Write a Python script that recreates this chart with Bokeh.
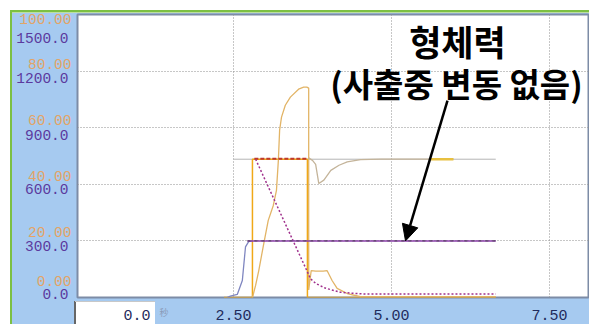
from bokeh.plotting import figure
from bokeh.models import (Range1d, FixedTicker, LinearAxis, Label, Arrow, NormalHead)
from bokeh.embed import file_html
from bokeh.resources import INLINE

# ---- axis ticks / labels ----
y_ticks = [0, 300, 600, 900, 1200, 1500]
y_labels_main = ["0.0", "300.0", "600.0", "900.0", "1200.0", "1500.0"]
y_labels_sub = ["0.00", "20.00", "40.00", "60.00", "80.00", "100.00"]
x_ticks = [2.5, 5.0, 7.5]
x_labels = ["2.50", "5.00", "7.50"]
time_box_text = "0.0"
time_unit_text = "秒"

# ---- series (time [s], value) ----
clamp_rise_x = [2.40, 2.45, 2.56, 2.64, 2.69, 2.74, 2.80]
clamp_rise_y = [0, 7, 16, 90, 268, 296, 300]
clamp_x = [2.72, 6.65]
clamp_y = [300, 300]

rect_x = [2.35, 2.80, 2.80, 3.67, 3.67, 6.65]
rect_y = [0, 0, 733, 733, 0, 0]

set_x = [2.83, 3.66]
set_y = [735, 735]

ref_x = [2.50, 6.65]
ref_y = [733, 733]

speed_x = [2.80, 2.85, 2.90, 2.98, 3.05, 3.13, 3.18, 3.21, 3.23, 3.26, 3.32, 3.40,
           3.53, 3.61, 3.66, 3.69, 3.69, 3.73, 3.80, 3.92, 3.98, 4.06, 4.14, 4.30,
           4.51, 6.65]
speed_y = [0, 64, 143, 287, 409, 488, 568, 727, 887, 956, 1019, 1062,
           1104, 1115, 1115, 1110, 40, 143, 140, 140, 143, 90, 48, 21,
           4, 4]

hold_x = [3.69, 3.75, 3.80, 3.85, 3.93, 4.04, 4.17, 4.30, 4.51, 4.83, 5.98]
hold_y = [740, 727, 706, 604, 622, 674, 701, 719, 731, 733, 733]
hold_hi_x = [5.62, 5.98]
hold_hi_y = [733, 733]

decay_x = [2.85, 3.72, 3.80, 3.95, 4.19, 4.40, 4.62, 6.65]
decay_y = [733, 99, 75, 50, 28, 22, 18, 18]

# ---- figure ----
W, H = 589, 324
p = figure(width=W, height=H, x_range=Range1d(0.032, 8.133), y_range=Range1d(0, 1500),
           output_backend="svg", toolbar_location=None,
           min_border_left=77, min_border_right=0, min_border_top=14, min_border_bottom=27)
p.border_fill_alpha = 0
p.background_fill_color = "white"
p.outline_line_color = "#7d8ca6"
p.outline_line_width = 2

# panel background drawn behind the (transparent) border area
bg_layers = [
    "linear-gradient(#c8c8c8,#c8c8c8) 75px 301px / 80px 1px no-repeat",
    "linear-gradient(#666666,#666666) 74px 301px / 2px 23px no-repeat",
    "linear-gradient(#ffffff,#ffffff) 75px 301px / 80px 23px no-repeat",
    "linear-gradient(#7cc043,#7cc043) 9.5px 10px / 579.5px 2.5px no-repeat",
    "linear-gradient(#7cc043,#7cc043) 9.5px 10px / 2px 314px no-repeat",
    "linear-gradient(#A6CAF0,#A6CAF0) 11.5px 12.5px / 577.5px 311.5px no-repeat",
    "#ffffff",
]
p.styles = {"background": ", ".join(bg_layers)}

MONO = "Liberation Mono"

# ---- x axis ----
ppx_x = 2.5 / 158.0
box_tick = round((136.5 - 75) * ppx_x, 3)
unit_tick = round((163.5 - 75) * ppx_x, 3)
xt = [box_tick] + x_ticks
xl = [time_box_text] + x_labels
p.xaxis.ticker = FixedTicker(ticks=xt)
p.xaxis.major_label_overrides = {t: s for t, s in zip(xt, xl)}
p.xaxis.axis_line_color = None
p.xaxis.major_tick_line_color = None
p.xaxis.minor_tick_line_color = None
p.xaxis.major_label_standoff = 6
p.xaxis.major_label_text_font = MONO
p.xaxis.major_label_text_font_size = "15px"
p.xaxis.major_label_text_color = "#1f2a5c"

# small grey unit mark next to the time box (second axis pulled back into the band)
ax_unit = LinearAxis(ticker=FixedTicker(ticks=[unit_tick]),
                     major_label_overrides={unit_tick: time_unit_text})
ax_unit.axis_line_color = None
ax_unit.major_tick_line_color = None
ax_unit.minor_tick_line_color = None
ax_unit.major_tick_out = 0
ax_unit.major_tick_in = 0
ax_unit.major_label_standoff = -17
ax_unit.major_label_text_font = "Noto Sans CJK JP"
ax_unit.major_label_text_font_size = "9px"
ax_unit.major_label_text_color = "#8a9ab8"
p.add_layout(ax_unit, "below")

p.xgrid.ticker = FixedTicker(ticks=x_ticks)
p.ygrid.ticker = FixedTicker(ticks=y_ticks[1:-1])
for g in (p.xgrid, p.ygrid):
    g.grid_line_color = "#8f8f8f"
    g.grid_line_dash = "1 2"
    g.grid_line_width = 1

# ---- y axes: two scales stacked (orange above, purple below each grid level) ----
p.yaxis.visible = False
ppx_y = 1500 / 283.0
main_dy = [4, -5, -5, -7, -7, -23]      # pixel nudges (layout)
sub_dy = [16, 9, 8, 8, 7, -5]
main_pos = [round(v + d * ppx_y, 2) for v, d in zip(y_ticks, main_dy)]
sub_pos = [round(v + d * ppx_y, 2) for v, d in zip(y_ticks, sub_dy)]

ax_sub = LinearAxis(ticker=FixedTicker(ticks=sub_pos),
                    major_label_overrides={t: s for t, s in zip(sub_pos, y_labels_sub)})
ax_main = LinearAxis(ticker=FixedTicker(ticks=main_pos),
                     major_label_overrides={t: s for t, s in zip(main_pos, y_labels_main)})
for ax, col in ((ax_sub, "#e3a466"), (ax_main, "#5b3a9e")):
    ax.axis_line_color = None
    ax.major_tick_line_color = None
    ax.minor_tick_line_color = None
    ax.major_tick_out = 0
    ax.major_tick_in = 0
    ax.major_label_text_font = MONO
    ax.major_label_text_font_size = "14.5px"
    ax.major_label_text_color = col
ax_sub.major_label_standoff = 6
ax_main.major_label_standoff = -52
p.add_layout(ax_sub, "left")
p.add_layout(ax_main, "left")

# ---- traces ----
p.line(ref_x, ref_y, line_color="#b5b5b5", line_width=1)
p.line(rect_x, rect_y, line_color="#f0a818", line_width=1.5)
p.line(speed_x, speed_y, line_color="#e2b466", line_width=1.3)
p.line(hold_x, hold_y, line_color="#c4b49a", line_width=1.3)
p.line(hold_hi_x, hold_hi_y, line_color="#e8c040", line_width=2.5)
p.line(set_x, set_y, line_color="#c0392b", line_width=2, line_dash="4 2")
p.line(decay_x, decay_y, line_color="#a0308c", line_width=1.5, line_dash="2 2")
p.line(clamp_rise_x, clamp_rise_y, line_color="#7f86c0", line_width=1.3)
p.line(clamp_x, clamp_y, line_color="#8a3fa8", line_width=1.5)
p.line(clamp_x, clamp_y, line_color="#303030", line_width=1, line_dash="3 4", line_alpha=0.7)

# ---- annotation ----
p.add_layout(Label(x=6.044, y=1362, text="형체력", text_align="center", text_baseline="middle",
                   text_font="Noto Sans CJK KR", text_font_style="bold",
                   text_font_size="35px", text_color="black"))
p.add_layout(Label(x=6.028, y=1137, text="(사출중 변동 없음)", text_align="center",
                   text_baseline="middle", text_font="Noto Sans CJK KR",
                   text_font_style="bold", text_font_size="33px", text_color="black"))
p.add_layout(Arrow(end=NormalHead(size=16, fill_color="black", line_color="black"),
                   x_start=5.886, y_start=1044, x_end=5.222, y_end=300,
                   line_width=2.5, line_color="black"))

open("out.html", "w").write(file_html(p, INLINE))
